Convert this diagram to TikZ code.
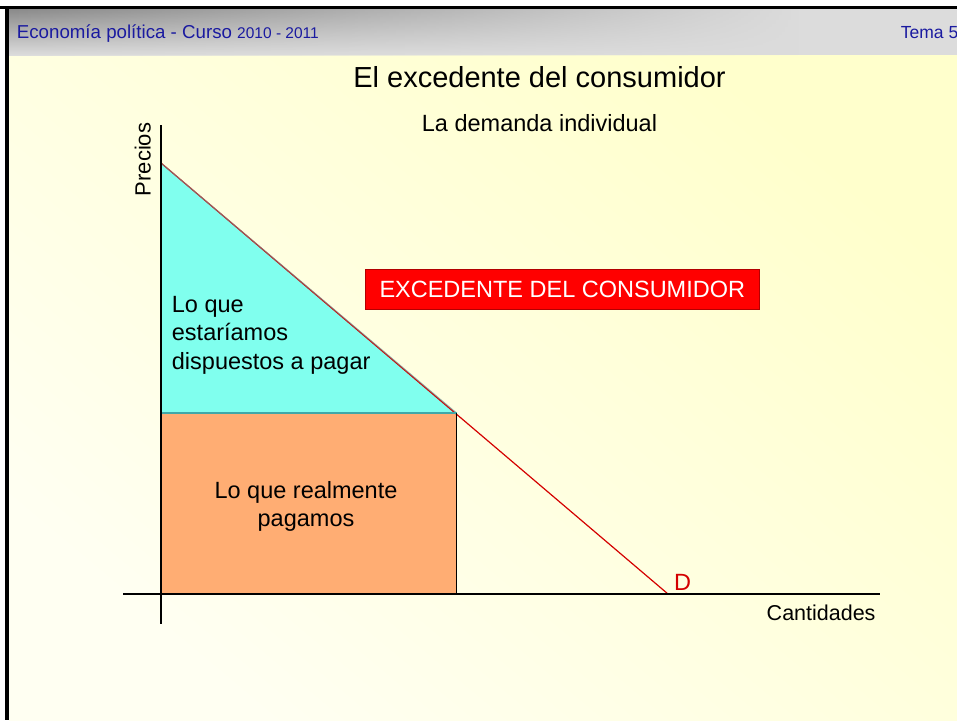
\documentclass[tikz,border=0pt]{standalone}
\usepackage{fontspec}
\setmainfont{Liberation Sans}
\usetikzlibrary{fadings}
\definecolor{hdrtxt}{HTML}{1A1AA0}
\definecolor{hdrgray}{HTML}{DCDCDC}
\definecolor{hdrdark}{HTML}{8A8A8A}
\definecolor{cyanfill}{HTML}{80FFEE}
\definecolor{orangefill}{HTML}{FFAD73}
\definecolor{demandred}{HTML}{D40000}
\definecolor{bodylight}{HTML}{FFFFF2}
\definecolor{bodyyellow}{HTML}{FFFFCC}
\definecolor{edgeteal}{HTML}{40A8A8}
\definecolor{edgegray}{HTML}{7A8A8A}
\begin{document}
\begin{tikzpicture}[x=1pt,y=-1pt,
  hdrtext/.style={text=hdrtxt, inner sep=0pt, anchor=base west},
  bodytext/.style={inner sep=0pt, font=\fontsize{23.5}{28.6}\selectfont},
  axisline/.style={draw=black, line width=1.2pt},
  demandline/.style={draw=demandred, line width=1.2pt},
  excbox/.style={fill=red, draw=red!70!black, line width=0.8pt, inner sep=0pt,
    text=white, font=\fontsize{23.5}{28}\selectfont}]
\useasboundingbox (0,0) rectangle (957,720);
\fill[white] (0,0) rectangle (957,720);
% body background
\shade[top color=bodyyellow, bottom color=bodylight, shading angle=-40] (9,55) rectangle (957,720);
% header
\fill[hdrgray] (9,9) rectangle (957,55);
\shade[top color=hdrdark, bottom color=hdrgray, path fading=east] (9,9) rectangle (800,55);
% frame
\fill[black] (0,6) rectangle (957,9);
\fill[black] (5,6) rectangle (9,720);
% header texts
\node[hdrtext] (hleft) at (16.7,38.3) {\fontsize{18.7}{20}\selectfont Economía política - Curso \fontsize{15.5}{16}\selectfont 2010 - 2011};
\node[hdrtext] (hright) at (900.7,38.3) {\fontsize{17.5}{20}\selectfont Tema 5};
% titles
\node[inner sep=0pt, anchor=base] (title) at (539.5,87.3) {\fontsize{29}{34}\selectfont El excedente del consumidor};
\node[inner sep=0pt, anchor=base] (subtitle) at (539.5,131) {\fontsize{23.5}{28}\selectfont La demanda individual};
% coordinates
\coordinate (O) at (161,594);
\coordinate (ytop) at (161,125);
\coordinate (ybot) at (161,624);
\coordinate (xleft) at (123,594);
\coordinate (xright) at (880,594);
\coordinate (dA) at (161,163);
\coordinate (dB) at (668,594);
\coordinate (E) at (456.5,413);
\coordinate (P) at (161,413);
\coordinate (Q) at (456.5,594);
% areas
\fill[orangefill] (P) rectangle (Q);
\fill[cyanfill] (dA) -- (P) -- (E) -- cycle;
% demand curve
\draw[demandline] (dA) -- (dB);
\draw[edgegray, line width=1pt, opacity=0.7] (dA) -- (E);
\draw[edgeteal, line width=1.2pt] (P) -- (E);
\draw[black, line width=1.2pt] (E) -- (Q);
% axes
\draw[axisline] (xleft) -- (xright);
\draw[axisline] (ytop) -- (ybot);
% labels
\node[inner sep=0pt, rotate=90, anchor=base, font=\fontsize{22}{26}\selectfont] (precios) at (150.7,159.5) {Precios};
\node[inner sep=0pt, anchor=base east, font=\fontsize{21.5}{26}\selectfont] (cant) at (875.7,620) {Cantidades};
\node[inner sep=0pt, anchor=base west, text=demandred, font=\fontsize{23.5}{28}\selectfont] (dlabel) at (674,590) {D};
\node[excbox, minimum width=394.7pt, minimum height=40.3pt] (exc) at (562.3,289.2) {EXCEDENTE DEL CONSUMIDOR};
\node[bodytext, align=left, anchor=base west] (willing) at (171.7,369.3) {Lo que\\estaríamos\\dispuestos a pagar};
\node[bodytext, align=center, anchor=base] (paid) at (306,526.7) {Lo que realmente\\pagamos};
\end{tikzpicture}
\end{document}
